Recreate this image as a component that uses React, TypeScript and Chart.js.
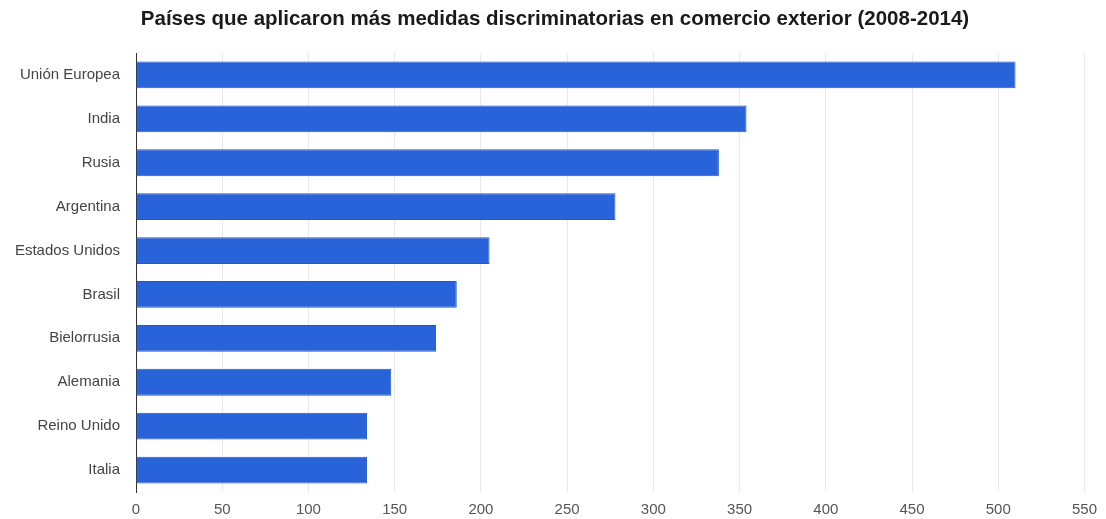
import React, { useEffect, useRef } from "react";
import { Chart, registerables } from "chart.js";

Chart.register(...registerables);

const categories = [
  "Unión Europea",
  "India",
  "Rusia",
  "Argentina",
  "Estados Unidos",
  "Brasil",
  "Bielorrusia",
  "Alemania",
  "Reino Unido",
  "Italia",
];
const values = [510, 354, 338, 278, 205, 186, 174, 148, 134, 134];
const titleText = "Países que aplicaron más medidas discriminatorias en comercio exterior (2008-2014)";
const xMin = 0;
const xMax = 550;
const xStep = 50;

const FONT = "'Liberation Sans', Arial, sans-serif";

const titlePlugin = {
  id: "centeredTitle",
  afterDraw(chart: any) {
    const ctx = chart.ctx;
    ctx.save();
    ctx.font = `bold 20.5px ${FONT}`;
    ctx.fillStyle = "#1a1a1a";
    ctx.textAlign = "center";
    ctx.textBaseline = "middle";
    ctx.fillText(titleText, 555, 19);
    ctx.restore();
  },
};

export default function App() {
  const ref = useRef<HTMLCanvasElement | null>(null);

  useEffect(() => {
    document.body.style.margin = "0";
    const canvas = ref.current;
    if (!canvas) return;
    const chart = new Chart(canvas, {
      type: "bar",
      data: {
        labels: categories,
        datasets: [
          {
            data: values,
            backgroundColor: "#2963d9",
            borderColor: "#2457c6",
            borderWidth: 1,
            categoryPercentage: 1,
            barPercentage: 0.61,
          },
        ],
      },
      options: {
        indexAxis: "y",
        animation: false,
        responsive: false,
        maintainAspectRatio: false,
        layout: { padding: { top: 53, right: 20, bottom: 0, left: 0 } },
        plugins: {
          legend: { display: false },
          tooltip: { enabled: false },
          title: { display: false },
        },
        scales: {
          x: {
            min: xMin,
            max: xMax,
            ticks: {
              stepSize: xStep,
              color: "#555",
              padding: 9,
              font: { family: FONT, size: 15 },
            },
            grid: { color: "#e9e9e9", drawTicks: false, lineWidth: 1 },
            border: { display: false },
            afterFit: (scale: any) => {
              scale.height = 27;
            },
          },
          y: {
            ticks: {
              color: "#444",
              padding: 16,
              font: { family: FONT, size: 15 },
            },
            grid: { display: false, drawTicks: false },
            border: { display: true, color: "#333", width: 1 },
            afterFit: (scale: any) => {
              scale.width = 136;
            },
          },
        },
      },
      plugins: [titlePlugin],
    });
    return () => chart.destroy();
  }, []);

  return (
    <div style={{ width: 1106, height: 519, background: "#fff" }}>
      <canvas ref={ref} width={1106} height={519} style={{ display: "block" }} />
    </div>
  );
}
